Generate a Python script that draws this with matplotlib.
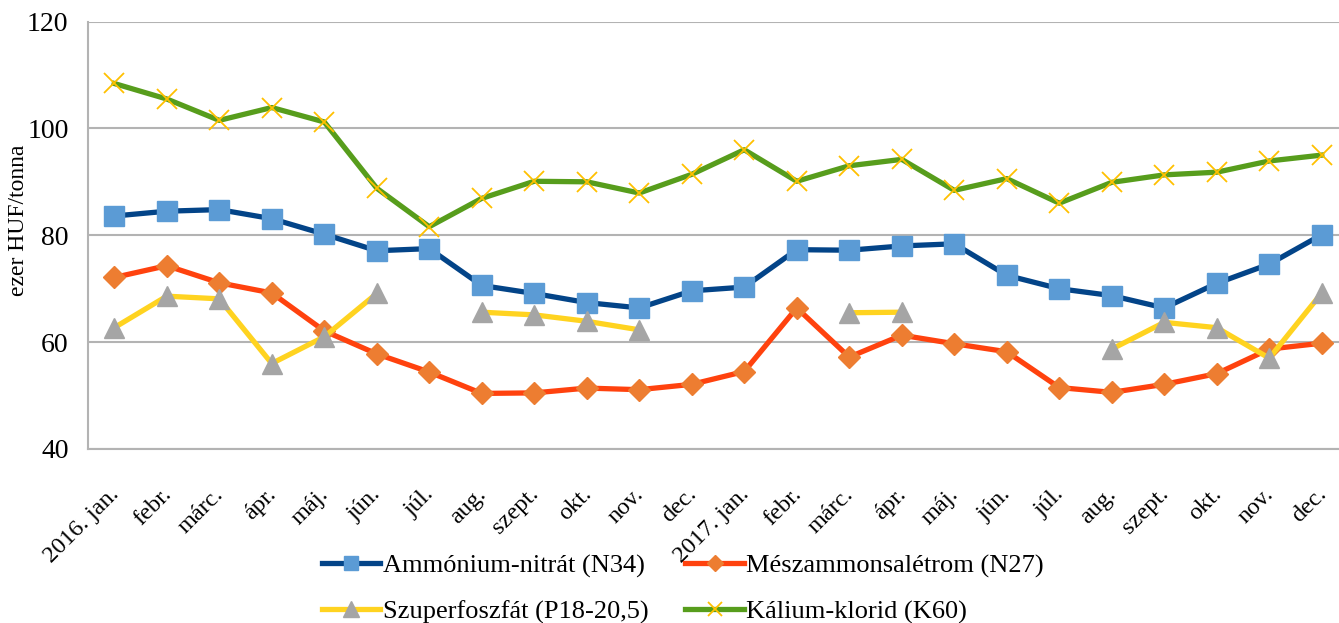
import numpy as np
import matplotlib
matplotlib.use("Agg")
import matplotlib.pyplot as plt
from matplotlib.transforms import ScaledTranslation

plt.rcParams['font.family'] = ['Liberation Serif', 'DejaVu Serif']

# Data (ezer HUF/tonna)
months = ["2016. jan.", "febr.", "márc.", "ápr.", "máj.", "jún.", "júl.", "aug.",
          "szept.", "okt.", "nov.", "dec.", "2017. jan.", "febr.", "márc.", "ápr.",
          "máj.", "jún.", "júl.", "aug.", "szept.", "okt.", "nov.", "dec."]

ammonium = [83.6, 84.5, 84.8, 83.1, 80.2, 77.1, 77.5, 70.6, 69.1, 67.4, 66.4, 69.6,
            70.3, 77.3, 77.2, 78.0, 78.4, 72.5, 70.0, 68.7, 66.4, 71.0, 74.6, 80.1]
meszammon = [72.1, 74.3, 71.1, 69.2, 62.1, 57.8, 54.4, 50.4, 50.5, 51.4, 51.1, 52.1,
             54.5, 66.4, 57.2, 61.3, 59.7, 58.2, 51.5, 50.6, 52.1, 54.1, 58.7, 59.8]
nan = np.nan
szuperfoszfat = [62.7, 68.6, 68.1, 56.0, 61.0, 69.1, nan, 65.6, 65.1, 63.9, 62.3, nan,
                 nan, nan, 65.5, 65.6, nan, nan, nan, 58.7, 63.7, 62.7, 57.0, 69.2]
kalium = [108.4, 105.5, 101.5, 103.9, 101.2, 88.8, 81.6, 86.9, 90.1, 90.0, 87.9, 91.4,
          96.0, 90.1, 93.0, 94.2, 88.4, 90.6, 86.0, 89.9, 91.3, 91.8, 93.9, 95.0]

x = np.arange(len(months))

fig = plt.figure(figsize=(13.39, 6.23), dpi=100)
ax = fig.add_axes([88 / 1339, 1 - 449 / 623, (1348 - 88) / 1339, (449 - 21.5) / 623])

lw = 3.8
h1, = ax.plot(x, ammonium, color='#034488', lw=lw, marker='s', ms=14,
              mfc='#5B9BD5', mec='#5B9BD5', label='Ammónium-nitrát (N34)')
h2, = ax.plot(x, meszammon, color='#FF420E', lw=lw, marker='D', ms=11,
              mfc='#ED7D31', mec='#ED7D31', label='Mészammonsalétrom (N27)')
h3, = ax.plot(x, szuperfoszfat, color='#FFD320', lw=lw, marker='^', ms=15,
              mfc='#A5A5A5', mec='#A5A5A5', label='Szuperfoszfát (P18-20,5)')
h4, = ax.plot(x, kalium, color='#579D1C', lw=lw, marker='x', ms=14, mew=1.3,
              mec='#FFC000', label='Kálium-klorid (K60)')

ax.set_xlim(-0.5, len(months) - 0.5)
ax.set_ylim(40, 120)
ax.set_yticks([40, 60, 80, 100, 120])
ax.yaxis.grid(True, color='#B3B3B3', lw=1.5)
ax.set_axisbelow(True)
ax.set_xticks(x)
ax.set_xticklabels(months, rotation=45, ha='right', rotation_mode='anchor', fontsize=17.5)
ax.tick_params(axis='y', length=0, pad=14, labelsize=20)
ax.tick_params(axis='x', length=0, pad=25)
shift = ScaledTranslation(-0.06, 0, fig.dpi_scale_trans)
for lab in ax.get_xticklabels():
    lab.set_transform(lab.get_transform() + shift)
for s in ['top', 'right']:
    ax.spines[s].set_visible(False)
for s in ['left', 'bottom']:
    ax.spines[s].set_color('#B3B3B3')
    ax.spines[s].set_linewidth(1.5)

ax.set_ylabel('ezer HUF/tonna', fontsize=17)
ax.yaxis.set_label_coords(-0.047, 0.535)

fig.legend([h1, h3, h2, h4], [h.get_label() for h in [h1, h3, h2, h4]],
           loc='center', bbox_to_anchor=(683 / 1339, 1 - 589 / 623), ncol=2,
           frameon=False, fontsize=19, handlelength=2.2, columnspacing=1.4,
           labelspacing=0.85, handletextpad=0.1, markerscale=0.75)

fig.savefig('out.png', dpi=100)
